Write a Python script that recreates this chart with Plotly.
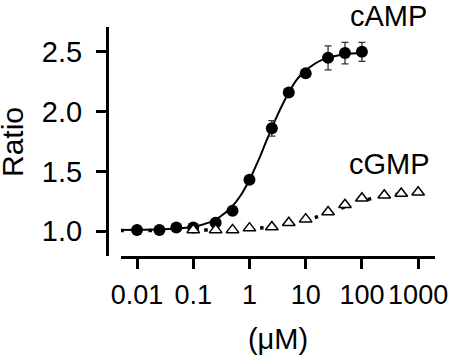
import plotly.graph_objects as go

# Measured points
conc_camp = [0.01, 0.025, 0.05, 0.1, 0.25, 0.5, 1, 2.5, 5, 10, 25, 50, 100]
ratio_camp = [1.01, 1.01, 1.03, 1.03, 1.07, 1.17, 1.43, 1.86, 2.16, 2.32, 2.45, 2.49, 2.50]
err_camp = [0.01, 0.01, 0.01, 0.01, 0.015, 0.02, 0.02, 0.065, 0.02, 0.02, 0.10, 0.09, 0.08]

conc_cgmp = [0.1, 0.25, 0.5, 1, 2.5, 5, 10, 25, 50, 100, 250, 500, 1000]
ratio_cgmp = [1.01, 1.01, 1.01, 1.025, 1.035, 1.07, 1.10, 1.16, 1.22, 1.275, 1.30, 1.315, 1.325]

# Fitted curves
fit_camp_x = [0.005, 0.01, 0.03, 0.1, 0.2, 0.3, 0.5, 0.7, 1, 1.5, 2, 3, 5, 7, 10, 20, 50, 100]
fit_camp_y = [1.01, 1.011, 1.015, 1.037, 1.075, 1.12, 1.21, 1.30, 1.43, 1.61, 1.755, 1.95, 2.16, 2.27, 2.345, 2.435, 2.48, 2.49]

fit_cgmp_x = [0.005, 0.1, 1, 3, 10, 14, 30, 79, 140, 300, 815, 1000]
fit_cgmp_y = [1.005, 1.008, 1.02, 1.04, 1.09, 1.11, 1.17, 1.23, 1.27, 1.30, 1.315, 1.32]

x_ticks = [0.01, 0.1, 1, 10, 100, 1000]
x_ticktext = ["0.01", "0.1", "1", "10", "100", "1000"]
y_ticks = [1.0, 1.5, 2.0, 2.5]
y_ticktext = ["1.0", "1.5", "2.0", "2.5"]

FONT = "Liberation Sans, Arial, sans-serif"

fig = go.Figure()
fig.add_trace(go.Scatter(x=fit_camp_x, y=fit_camp_y, mode="lines",
                         line=dict(color="black", width=2, shape="spline"),
                         showlegend=False, hoverinfo="skip"))
fig.add_trace(go.Scatter(x=fit_cgmp_x, y=fit_cgmp_y, mode="lines",
                         line=dict(color="black", width=3.5, shape="spline", dash="3.5px,24.5px"),
                         showlegend=False, hoverinfo="skip"))
fig.add_trace(go.Scatter(x=conc_camp, y=ratio_camp, mode="markers", name="cAMP",
                         marker=dict(symbol="circle", size=12, color="black"),
                         error_y=dict(type="data", array=err_camp, color="#333333",
                                      thickness=1.3, width=3.5),
                         showlegend=False))
fig.add_trace(go.Scatter(x=conc_cgmp, y=ratio_cgmp, mode="markers", name="cGMP",
                         marker=dict(symbol="triangle-up", size=11, color="white",
                                     line=dict(color="black", width=1.5)),
                         showlegend=False))

# label positions in paper coords (plot area: x 107..435, y 27..256)
fig.add_annotation(x=(388 - 107) / 328, y=(256 - 16) / 229, xref="paper", yref="paper",
                   xanchor="center", yanchor="middle", borderpad=0,
                   text="cAMP", showarrow=False, font=dict(family=FONT, size=29, color="black"))
fig.add_annotation(x=(389 - 107) / 328, y=(256 - 164) / 229, xref="paper", yref="paper",
                   xanchor="center", yanchor="middle", borderpad=0,
                   text="cGMP", showarrow=False, font=dict(family=FONT, size=29, color="black"))
# y-axis title
fig.add_annotation(x=(12 - 107) / 328, y=(256 - 142) / 229, xref="paper", yref="paper",
                   xanchor="center", yanchor="middle", borderpad=0, textangle=-90,
                   text="Ratio", showarrow=False, font=dict(family=FONT, size=30, color="black"))

fig.update_layout(
    width=460, height=355,
    margin=dict(l=107, r=25, t=27, b=99, autoexpand=False),
    paper_bgcolor="white", plot_bgcolor="white",
    font=dict(family=FONT, size=29, color="black"),
    xaxis=dict(type="log", range=[-2.285, 3.30], domain=[0.0427, 1],
               tickvals=x_ticks, ticktext=x_ticktext, tickangle=0, automargin=True,
               showline=True, linecolor="black", linewidth=3,
               ticks="outside", ticklen=10, tickwidth=2.5, tickcolor="black",
               showgrid=False, zeroline=False,
               tickfont=dict(family=FONT, size=27),
               ticklabelstandoff=3,
               title=dict(text="(μM)", font=dict(family=FONT, size=29), standoff=30)),
    yaxis=dict(range=[0.7917, 2.708], anchor="free", position=0, automargin=True,
               tickvals=y_ticks, ticktext=y_ticktext,
               showline=True, linecolor="black", linewidth=3,
               ticks="outside", ticklen=10, tickwidth=2.5, tickcolor="black",
               showgrid=False, zeroline=False,
               tickfont=dict(family=FONT, size=29),
               ticklabelstandoff=8),
)

fig.write_html("out.html", config={"displayModeBar": False},
               post_script="document.body.style.margin='0px';")
